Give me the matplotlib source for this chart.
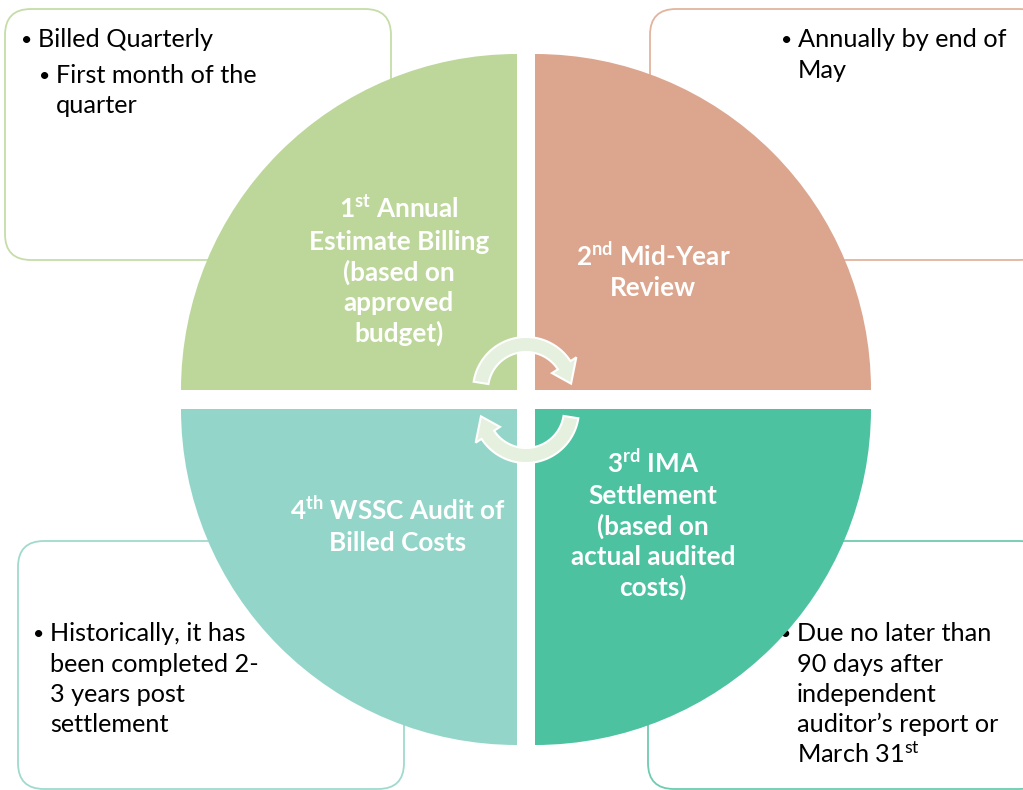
import matplotlib
matplotlib.use("Agg")
import matplotlib.pyplot as plt
from matplotlib.patches import Wedge, FancyBboxPatch, Polygon
import numpy as np

plt.rcParams['font.family'] = ['Lato', 'DejaVu Sans']
plt.rcParams['mathtext.fontset'] = 'custom'
plt.rcParams['mathtext.rm'] = 'Lato'
plt.rcParams['mathtext.bf'] = 'Lato:bold'
plt.rcParams['mathtext.it'] = 'Lato:italic'

W, H = 1023, 790

# etapas del ciclo, en sentido horario desde arriba a la izquierda
etapas = [
    ["$\\mathbf{1^{st}}$ Annual", "Estimate Billing", "(based on", "approved", "budget)"],
    ["$\\mathbf{2^{nd}}$ Mid-Year", "Review"],
    ["$\\mathbf{3^{rd}}$ IMA", "Settlement", "(based on", "actual audited", "costs)"],
    ["$\\mathbf{4^{th}}$ WSSC Audit of", "Billed Costs"],
]
colores = ['#BDD79B', '#DCA68E', '#4CC2A1', '#93D6C9']
bordes = ['#C5DDA8', '#E2B49E', '#6FCCB0', '#A0DACE']

# notas de cada etapa: (nivel, lineas)
notas = [
    [(0, ["Billed Quarterly"]), (1, ["First month of the", "quarter"])],
    [(0, ["Annually by end of", "May"])],
    [(0, ["Due no later than", "90 days after", "independent",
          "auditor\u2019s report or", "March 3$1^{\\mathrm{st}}$"])],
    [(0, ["Historically, it has", "been completed 2-", "3 years post", "settlement"])],
]

# geometria (pixeles, y hacia abajo)
R = 336
esquinas = [(517, 390), (535, 390), (535, 409), (517, 409)]
angulos = [(90, 180), (0, 90), (270, 360), (180, 270)]
centros_txt = [(399, 219, 30.7), (653, 266, 30), (653, 473, 30.8), (398, 520, 31)]
cajas = [(5, 9, 391, 260), (650, 9, 1045, 260), (648, 541, 1045, 789), (18, 541, 404, 789)]
txt_cajas = [(38, 47, 30, 6), (798, 47, 31, 0), (797, 641, 30.5, 0), (50, 641, 30.5, 0)]

fig = plt.figure(figsize=(W / 100, H / 100), dpi=100)
ax = fig.add_axes([0, 0, 1, 1])
ax.set_xlim(0, W)
ax.set_ylim(0, H)
ax.axis('off')

FS = 18.2
FSB = 18.8

for i in range(4):
    x0, y0, x1, y1 = cajas[i]
    caja = FancyBboxPatch((x0, H - y1), x1 - x0, y1 - y0,
                          boxstyle="round,pad=0,rounding_size=26",
                          fc='white', ec=bordes[i], lw=1.3, zorder=1)
    ax.add_patch(caja)

    tx, base, paso, extra = txt_cajas[i]
    y = base
    for nivel, lineas in notas[i]:
        xl = tx + 18 * nivel
        ax.text(xl - 17, H - y + 1, "\u2022", fontsize=14, va='baseline', ha='left',
                color='black', zorder=1.5)
        for ln in lineas:
            ax.text(xl, H - y, ln, fontsize=FS, va='baseline', ha='left',
                    color='black', zorder=1.5)
            y += paso
        y += extra

for i in range(4):
    cx, cy = esquinas[i]
    a0, a1 = angulos[i]
    ax.add_patch(Wedge((cx, H - cy), R, a0, a1, fc=colores[i], ec='none', zorder=2))
    tx, base, paso = centros_txt[i]
    for k, ln in enumerate(etapas[i]):
        ax.text(tx, H - base - k * paso, ln, fontsize=FSB, fontweight='bold',
                color='white', ha='center', va='baseline', zorder=3)


def flecha(cx, cy, a0, a1, ap, r_in=38, r_out=53, rh_in=31, rh_out=60):
    t = np.radians(np.linspace(a0, a1, 60))
    ext = np.c_[cx + r_out * np.cos(t), cy + r_out * np.sin(t)]
    inn = np.c_[cx + r_in * np.cos(t), cy + r_in * np.sin(t)][::-1]
    b = np.radians(a1)
    p = np.radians(ap)
    rm = (r_in + r_out) / 2
    punta = [[cx + rh_out * np.cos(b), cy + rh_out * np.sin(b)],
             [cx + rm * np.cos(p), cy + rm * np.sin(p)],
             [cx + rh_in * np.cos(b), cy + rh_in * np.sin(b)]]
    return np.vstack([ext, punta, inn])


for (cx, cy, a0, a1, ap) in [(526, 390, 171, 33, 8), (526, 410, 351, 213, 188)]:
    pts = flecha(cx, H - cy, a0, a1, ap)
    ax.add_patch(Polygon(pts, closed=True, fc='#E6F0DE', ec='white', lw=1.5, zorder=4))

fig.savefig("out.png", dpi=100)
